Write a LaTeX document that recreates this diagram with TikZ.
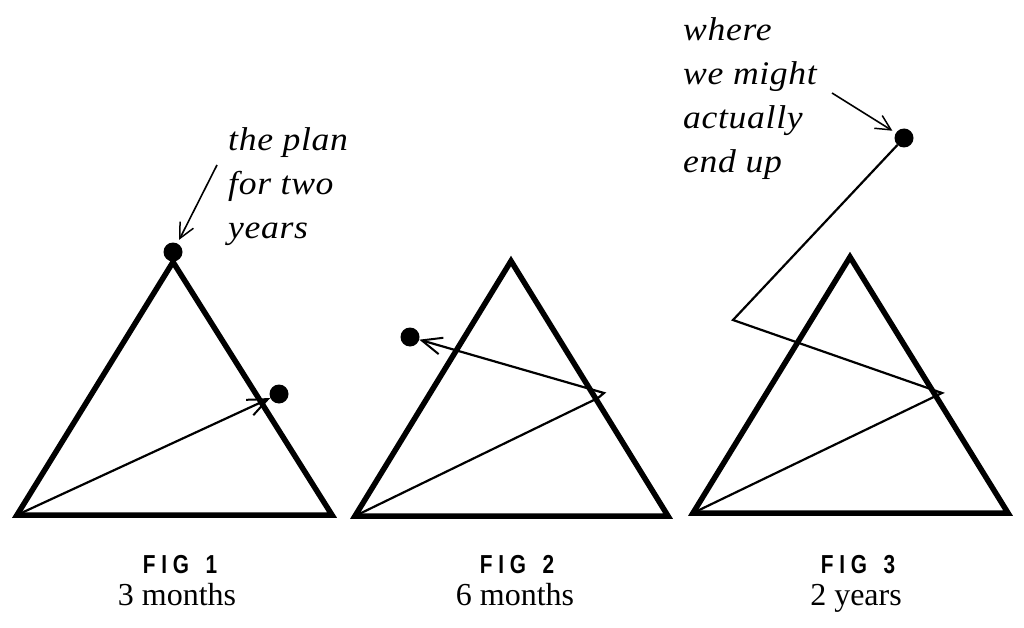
\documentclass[tikz,border=0pt]{standalone}
\usepackage{fontspec}
\usetikzlibrary{arrows.meta}
\newfontfamily\annfont{Liberation Serif}[FakeStretch=1.08,LetterSpace=2]
\newfontfamily\capfont{Liberation Serif}
\newfontfamily\figfont{Liberation Sans}[FakeStretch=0.8,LetterSpace=22]
\begin{document}
\begin{tikzpicture}[x=1pt,y=1pt,
  tri/.style={line width=5.5pt,line join=miter},
  walk/.style={line width=2.2pt},
  barb/.style={-{Straight Barb[length=20pt,width=17pt,line width=2pt]}},
  note/.style={line width=1.6pt,-{Straight Barb[length=15pt,width=15pt,line width=1.5pt]},shorten >=4pt},
  dot/.style={circle,fill=black,inner sep=0pt,minimum size=19pt},
  ann/.style={align=left,anchor=base west,inner sep=0pt,font=\annfont\itshape\fontsize{33}{44}\selectfont},
  figlab/.style={anchor=base,inner sep=0pt,font=\figfont\bfseries\fontsize{26}{28}\selectfont},
  sublab/.style={anchor=base,inner sep=0pt,font=\capfont\fontsize{32}{36}\selectfont}]
\useasboundingbox (0,0) rectangle (1024,-628);

% ---------- FIG 1 ----------
\coordinate (a1) at (17,-515);
\coordinate (b1) at (173,-262);
\coordinate (c1) at (332,-515);
\draw[tri] (a1) -- (b1) -- (c1) -- cycle;
\node[dot] (p1) at (173,-252) {};
\node[dot] (q1) at (279,-394) {};
\draw[walk,barb] (a1) -- (q1);
\node[ann] (t1) at (228,-238) {the plan\\for two\\years};
\coordinate (n1) at (217,-165);
\draw[note] (n1) -- (p1);
\node[figlab] (f1) at (180,-573) {FIG\hspace{5pt} 1};
\node[sublab] (s1) at (177,-605) {3 months};

% ---------- FIG 2 ----------
\coordinate (a2) at (355,-516);
\coordinate (b2) at (511,-261);
\coordinate (c2) at (668,-516);
\draw[tri] (a2) -- (b2) -- (c2) -- cycle;
\node[dot] (p2) at (410,-337) {};
\coordinate (k2) at (598,-398);
\coordinate (h2) at (604,-393);
\draw[walk,barb] (a2) -- (k2) -- (h2) -- (p2);
\node[figlab] (f2) at (517,-573) {FIG\hspace{5pt} 2};
\node[sublab] (s2) at (515,-605) {6 months};

% ---------- FIG 3 ----------
\coordinate (a3) at (693,-513);
\coordinate (b3) at (850,-257);
\coordinate (c3) at (1008,-513);
\draw[tri] (a3) -- (b3) -- (c3) -- cycle;
\node[dot] (p3) at (904,-138) {};
\coordinate (k3) at (942,-393);
\coordinate (l3) at (733,-320);
\draw[walk] (a3) -- (k3) -- (l3) -- (p3);
\node[ann] (t3) at (683,-173) {where\\we might\\actually\\end up};
\coordinate (n3) at (832,-93);
\draw[note] (n3) -- (p3);
\node[figlab] (f3) at (858,-573) {FIG\hspace{5pt} 3};
\node[sublab] (s3) at (856,-605) {2 years};
\end{tikzpicture}
\end{document}
